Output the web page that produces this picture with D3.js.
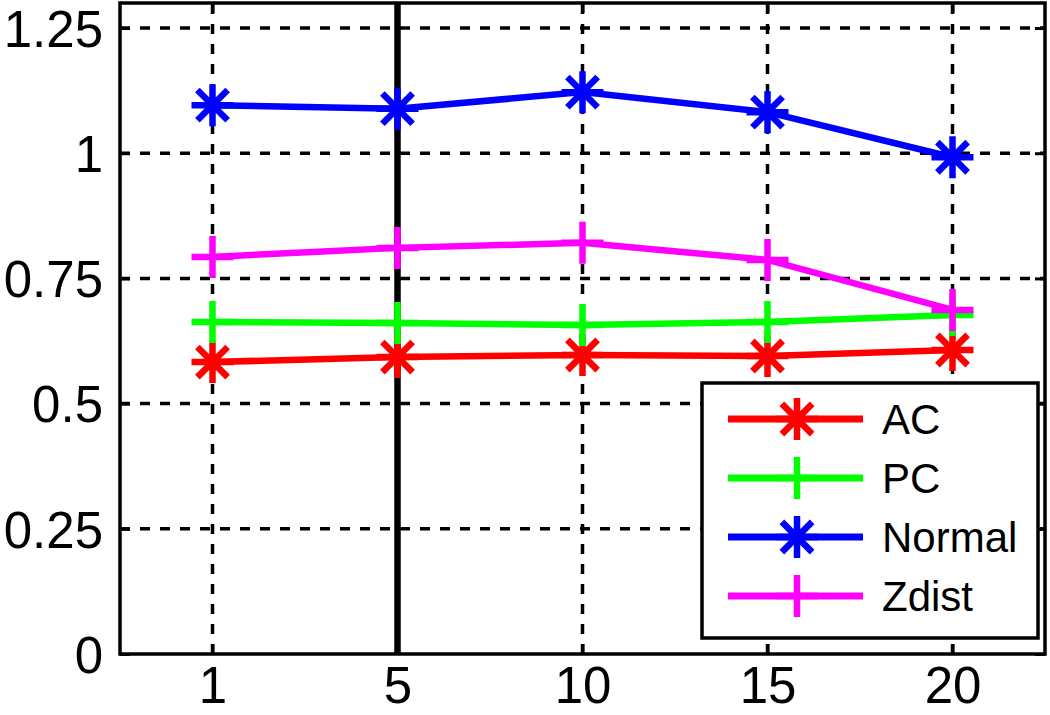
<!DOCTYPE html>
<html>
<head>
<meta charset="utf-8">
<script src="https://cdn.jsdelivr.net/npm/d3@7"></script>
<style>
  body { margin: 0; background: #fff; }
  text { font-family: "Liberation Sans", Arial, sans-serif; fill: #000; }
</style>
</head>
<body>
<svg id="canvas" width="1050" height="715"></svg>
<script>
let xLabels = ['1', '5', '10', '15', '20']
let yTicks = [0, 0.25, 0.5, 0.75, 1, 1.25]

let acValues = [0.583, 0.593, 0.597, 0.595, 0.607]
let pcValues = [0.663, 0.661, 0.657, 0.663, 0.677]
let normalValues = [1.096, 1.089, 1.122, 1.082, 0.992]
let zdistValues = [0.793, 0.811, 0.821, 0.787, 0.687]

let seriesNames = ['AC', 'PC', 'Normal', 'Zdist']
let seriesColors = ['#ff0000', '#00ff00', '#0000ff', '#ff00ff']
let seriesMarkers = ['star', 'plus', 'star', 'plus']
let seriesValues = [acValues, pcValues, normalValues, zdistValues]

let markedLabel = '5'

let svg = d3.select('#canvas')

let plotLeft = 120, plotRight = 1045, plotTop = 3, plotBottom = 654

let xScale = d3.scalePoint()
  .domain(xLabels)
  .range([plotLeft, plotRight])
  .padding(0.5)

let yScale = d3.scaleLinear()
  .domain([0, 1.3])
  .range([plotBottom, plotTop])

// grid
let grid = svg.append('g')
  .attr('stroke', '#000')
  .attr('stroke-width', 3.5)
  .attr('stroke-dasharray', '10,10')

grid.selectAll('.vgrid')
  .data(xLabels)
  .enter()
  .append('line')
  .attr('x1', d => xScale(d))
  .attr('x2', d => xScale(d))
  .attr('y1', plotBottom)
  .attr('y2', plotTop)

grid.selectAll('.hgrid')
  .data(yTicks.filter(d => d > 0))
  .enter()
  .append('line')
  .attr('x1', plotLeft)
  .attr('x2', plotRight)
  .attr('y1', d => yScale(d))
  .attr('y2', d => yScale(d))

// axes with inward ticks
let xAxis = d3.axisBottom(xScale).tickSizeInner(-10).tickSizeOuter(0).tickPadding(18)
let yAxis = d3.axisLeft(yScale).tickValues(yTicks).tickSizeInner(-10).tickSizeOuter(0)
  .tickPadding(17).tickFormat(d => d3.format('')(d))

let gx = svg.append('g').attr('transform', 'translate(0,' + plotBottom + ')').call(xAxis)
let gy = svg.append('g').attr('transform', 'translate(' + plotLeft + ',0)').call(yAxis)

svg.append('g').attr('transform', 'translate(' + plotRight + ',0)')
  .call(d3.axisRight(yScale).tickValues(yTicks).tickSizeInner(-10).tickSizeOuter(0).tickFormat(''))
svg.append('g').attr('transform', 'translate(0,' + plotTop + ')')
  .call(d3.axisTop(xScale).tickSizeInner(-10).tickSizeOuter(0).tickFormat(''))

svg.selectAll('.domain').remove()
svg.selectAll('.tick line').attr('stroke', '#000').attr('stroke-width', 3)
svg.selectAll('.tick text').style('font-size', '51px').attr('fill', '#000')
gy.selectAll('.tick text').attr('dy', '0.36em')
gx.selectAll('.tick text').attr('dy', '0.6em')

svg.append('rect')
  .attr('x', plotLeft)
  .attr('y', plotTop)
  .attr('width', plotRight - plotLeft)
  .attr('height', plotBottom - plotTop)
  .attr('fill', 'none')
  .attr('stroke', '#000')
  .attr('stroke-width', 3.5)

// vertical marker line
svg.append('line')
  .attr('x1', xScale(markedLabel))
  .attr('x2', xScale(markedLabel))
  .attr('y1', plotTop)
  .attr('y2', plotBottom)
  .attr('stroke', '#000')
  .attr('stroke-width', 6.5)

let markerPath = (type, r) => {
  let p = 'M0,' + (-r) + 'L0,' + r + 'M' + (-r) + ',0L' + r + ',0'
  if (type === 'star') {
    let d = r * 0.72
    p += 'M' + (-d) + ',' + (-d) + 'L' + d + ',' + d + 'M' + (-d) + ',' + d + 'L' + d + ',' + (-d)
  }
  return p
}

let line = d3.line()
  .x((d, i) => xScale(xLabels[i]))
  .y(d => yScale(d))

seriesValues.forEach((vals, s) => {
  svg.append('path')
    .datum(vals)
    .attr('d', line)
    .attr('fill', 'none')
    .attr('stroke', seriesColors[s])
    .attr('stroke-width', 6.5)

  svg.selectAll('.m' + s)
    .data(vals)
    .enter()
    .append('path')
    .attr('transform', (d, i) => 'translate(' + xScale(xLabels[i]) + ',' + yScale(d) + ')')
    .attr('d', markerPath(seriesMarkers[s], 21))
    .attr('fill', 'none')
    .attr('stroke', seriesColors[s])
    .attr('stroke-width', 6.5)
})

// legend
let legend = svg.append('g').attr('transform', 'translate(702,383)')
legend.append('rect')
  .attr('width', 336)
  .attr('height', 255)
  .attr('fill', '#fff')
  .attr('stroke', '#000')
  .attr('stroke-width', 3.5)

let entry = legend.selectAll('.entry')
  .data(seriesNames)
  .enter()
  .append('g')
  .attr('transform', (d, i) => 'translate(0,' + (36 + i * 59) + ')')

entry.append('line')
  .attr('x1', 26)
  .attr('x2', 161)
  .attr('stroke', (d, i) => seriesColors[i])
  .attr('stroke-width', 7)

entry.append('path')
  .attr('transform', 'translate(95,0)')
  .attr('d', (d, i) => markerPath(seriesMarkers[i], 21))
  .attr('fill', 'none')
  .attr('stroke', (d, i) => seriesColors[i])
  .attr('stroke-width', 6.5)

entry.append('text')
  .attr('x', 180)
  .attr('dy', '0.36em')
  .style('font-size', '42px')
  .text(d => d)
</script>
</body>
</html>
